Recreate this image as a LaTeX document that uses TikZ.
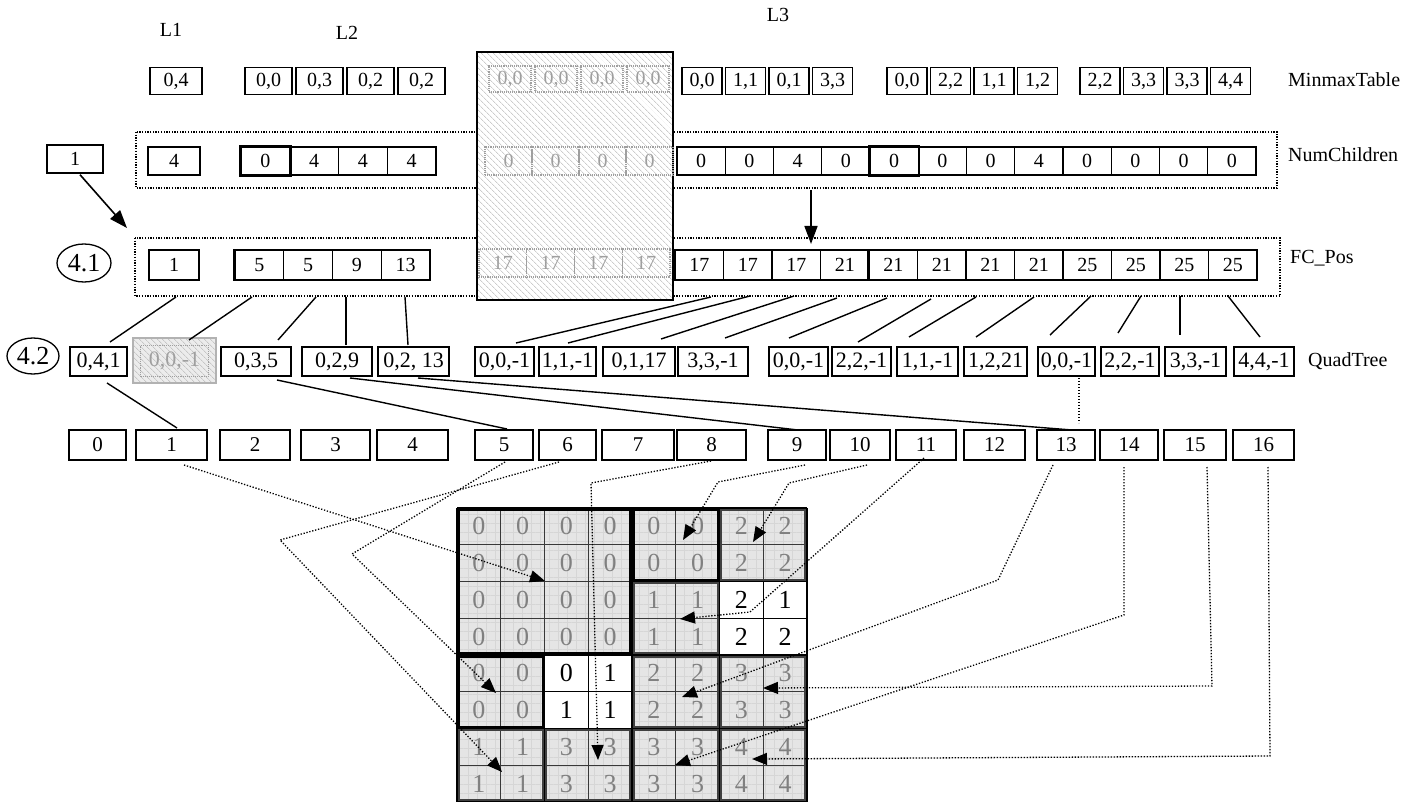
\documentclass[tikz,border=0pt]{standalone}
\usepackage{fontspec}
\setmainfont{Liberation Serif}
\usetikzlibrary{arrows.meta,patterns.meta,shapes.geometric}
\newcommand\fsz[1]{\fontsize{#1}{#1}\selectfont}
\newcommand\bx[7][]{\node[cellbox,minimum width={(#4)-(#3)},minimum height={#6},#1] (#2) at ({((#3)+(#4))/2},{#5}) {#7};}
\begin{document}
\begin{tikzpicture}[x=1pt,y=-1pt,
  cellbox/.style={draw, line width=1.4pt, inner sep=0pt, fill=white, font=\fsz{20}},
  heavy/.style={line width=2.8pt},
  ghostbox/.style={draw=gray!75, densely dotted, line width=1.1pt, inner sep=0pt, text=gray!75, font=\fsz{20}},
  lbl/.style={anchor=west, inner sep=0pt, font=\fsz{20}},
  framebox/.style={line width=1.3pt, dash pattern=on 1.3pt off 1.4pt},
  link/.style={line width=1.4pt},
  plink/.style={line width=1.3pt, dash pattern=on 1.3pt off 1.7pt},
  dlink/.style={line width=1.3pt, dash pattern=on 1.3pt off 1.7pt, -{Triangle[length=15pt,width=12pt]}},
  bigarrow/.style={line width=1.6pt, -{Triangle[length=18pt,width=13pt]}},
  hatch/.style={pattern={Lines[angle=-45,distance=4pt,line width=0.5pt]}, pattern color=gray!60},
]
\useasboundingbox (0,0) rectangle (1417,802);

% ---------- level labels ----------
\node[font=\fsz{20}] (tl1) at (171,30) {L1};
\node[font=\fsz{20}] (tl2) at (347,33) {L2};
\node[font=\fsz{20}] (tl3) at (778,15) {L3};

% ---------- frames and hatched block ----------
\draw[framebox] (136,132) rectangle (1277,188);
\draw[framebox] (135,238) rectangle (1280,296);
\fill[white] (477,52) rectangle (673,300);
\fill[hatch] (477,52) rectangle (673,300);
\draw[line width=1.6pt] (477,52) rectangle (673,300);

% ---------- MinmaxTable ----------
\bx{mm-l1}{150}{202}{81}{27}{0,4}
\foreach \t [count=\i from 0] in {{0,0},{0,3},{0,2},{0,2}} {\bx{mm-l2-\i}{245+\i*51}{292+\i*51}{81}{27}{\t}}
\foreach \i in {0,...,3} {\node[ghostbox,minimum width=42,minimum height=26] (mm-g-\i) at ({510+\i*46},79) {0,0};}
\foreach \t [count=\i from 0] in {{0,0},{1,1},{0,1},{3,3}} {\bx{mm-a-\i}{682+\i*43.5}{722+\i*43.5}{81}{27}{\t}}
\foreach \t [count=\i from 0] in {{0,0},{2,2},{1,1},{1,2}} {\bx{mm-b-\i}{887+\i*43.5}{927+\i*43.5}{81}{27}{\t}}
\foreach \t [count=\i from 0] in {{2,2},{3,3},{3,3},{4,4}} {\bx{mm-c-\i}{1080+\i*43.5}{1120+\i*43.5}{81}{27}{\t}}
\node[lbl] (lab-mm) at (1288,80) {MinmaxTable};

% ---------- NumChildren ----------
\bx{nc-one}{47}{103}{159}{28}{1}
\bx{nc-l1}{148}{200}{161}{28}{4}
\foreach \t [count=\i from 0] in {0,4,4,4} {\bx{nc-l2-\i}{241+\i*48.75}{289.75+\i*48.75}{161}{28}{\t}}
\draw[heavy] (nc-l2-0.north west) rectangle (nc-l2-0.south east);
\foreach \i in {0,...,3} {\node[ghostbox,minimum width=47,minimum height=28] (nc-g-\i) at ({508.5+\i*47},161) {0};}
\foreach \t [count=\i from 0] in {0,0,4,0,0,0,0,4,0,0,0,0} {\bx{nc-l3-\i}{677+\i*48.25}{725.25+\i*48.25}{161}{28}{\t}}
\draw[heavy] (nc-l3-4.north west) rectangle (nc-l3-4.south east);
\node[lbl] (lab-nc) at (1288,155) {NumChildren};

% ---------- FC_Pos ----------
\node[ellipse,draw,line width=1.3pt,minimum width=54,minimum height=38,inner sep=0pt,font=\fsz{26}] (e41) at (84,263) {4.1};
\bx{fc-l1}{149}{199}{265}{30}{1}
\foreach \t [count=\i from 0] in {5,5,9,13} {\bx{fc-l2-\i}{235+\i*48.75}{283.75+\i*48.75}{265}{30}{\t}}
\draw[line width=2.4pt] (fc-l2-0.north west) -- (fc-l2-0.south west);
\foreach \i in {0,...,3} {\node[ghostbox,minimum width=47.75,minimum height=28] (fc-g-\i) at ({502.9+\i*47.75},263) {17};}
\foreach \t [count=\i from 0] in {17,17,17,21,21,21,21,21,25,25,25,25} {\bx{fc-l3-\i}{675+\i*48.5}{723.5+\i*48.5}{265}{30}{\t}}
\draw[line width=2.6pt] (fc-l3-0.north west) -- (fc-l3-0.south west);
\draw[line width=2.4pt] (fc-l3-4.north west) -- (fc-l3-4.south west);
\node[lbl] (lab-fc) at (1290,258) {FC\_Pos};

% arrows into FC_Pos
\coordinate (a1e) at (127,228);
\draw[bigarrow] (nc-one.south) ++(5,1) -- (a1e);
\coordinate (a2s) at (811,190);
\coordinate (a2e) at (811,244);
\draw[bigarrow] (a2s) -- (a2e);

% ---------- QuadTree ----------
\node[ellipse,draw,line width=1.3pt,minimum width=52,minimum height=36,inner sep=0pt,font=\fsz{26}] (e42) at (33,356) {4.2};
\fill[gray!15] (133,338) rectangle (216,383);
\fill[hatch] (133,338) rectangle (216,383);
\draw[gray!60, line width=2.4pt] (133,338) rectangle (216,383);
\bx[font=\fsz{22}]{qt-0}{70}{127}{361.5}{29}{0,4,1}
\node[ghostbox,font=\fsz{22},minimum width=68,minimum height=31] (qt-1) at (174.5,361) {0,0,-1};
\bx[font=\fsz{22}]{qt-2}{221}{291}{361.5}{29}{0,3,5}
\bx[font=\fsz{22}]{qt-3}{302}{372}{361.5}{29}{0,2,9}
\bx[font=\fsz{22}]{qt-4}{378}{449}{361.5}{29}{0,2, 13}
\bx[font=\fsz{22}]{qt-5}{475}{534}{361.5}{29}{0,0,-1}
\bx[font=\fsz{22}]{qt-6}{539}{596}{361.5}{29}{1,1,-1}
\bx[font=\fsz{22},heavy]{qt-7}{603}{675}{361.5}{29}{0,1,17}
\bx[font=\fsz{22}]{qt-8}{678}{748}{361.5}{29}{3,3,-1}
\bx[font=\fsz{22}]{qt-9}{769}{828}{361.5}{29}{0,0,-1}
\bx[font=\fsz{22}]{qt-10}{832}{891}{361.5}{29}{2,2,-1}
\bx[font=\fsz{22}]{qt-11}{897}{958}{361.5}{29}{1,1,-1}
\bx[font=\fsz{22},heavy]{qt-12}{964}{1027}{361.5}{29}{1,2,21}
\bx[font=\fsz{22}]{qt-13}{1038}{1095}{361.5}{29}{0,0,-1}
\bx[font=\fsz{22}]{qt-14}{1101}{1159}{361.5}{29}{2,2,-1}
\bx[font=\fsz{22}]{qt-15}{1165}{1226}{361.5}{29}{3,3,-1}
\bx[font=\fsz{22}]{qt-16}{1234}{1294}{361.5}{29}{4,4,-1}
\node[lbl] (lab-qt) at (1308,361) {QuadTree};

% FC_Pos -> QuadTree links
\foreach \pa/\pb/\pc/\pd [count=\i] in {176/297/110/342, 252/297/189/340, 316/297/278/340, 346/297/346/345, 405/297/408/345,
  711/297/516/343, 750/296/568/343, 794/296/661/339, 837/298/725/338, 887/298/789/338, 931/299/858/342, 976/297/909/337,
  1034/297/976/337, 1091/296/1050/335, 1141/296/1118/333, 1180/296/1180/335, 1228/296/1260/337}
{\coordinate (fs\i) at (\pa,\pb); \coordinate (fe\i) at (\pc,\pd); \draw[link] (fs\i) -- (fe\i);}

% ---------- index row ----------
\foreach \pa/\pb [count=\i from 0] in {69/126, 136/207, 220/290, 301/370, 377/448, 475/533, 539/596, 602/674, 677/746,
  768/826, 830/890, 896/956, 964/1025, 1037/1095, 1100/1158, 1164/1226, 1233/1294}
{\bx[font=\fsz{21}]{ix-\i}{\pa}{\pb}{445}{30}{\i}}

% QuadTree -> index links
\foreach \pa/\pb/\pc/\pd [count=\i] in {107/383/177/428, 277/380/507/429, 350/378/798/430, 418/378/1072/430}
{\coordinate (qs\i) at (\pa,\pb); \coordinate (qe\i) at (\pc,\pd); \draw[link] (qs\i) -- (qe\i);}
\coordinate (qd1) at (1079,378); \coordinate (qd2) at (1079,423);
\draw[plink] (qd1) -- (qd2);

% ---------- grid ----------
\foreach \k in {0,...,8} {\draw[line width=1.4pt] ({457+\k*43.75},508) -- ({457+\k*43.75},802);}
\foreach \k in {0,...,8} {\draw[line width=1.4pt] (457,{508+\k*36.75}) -- (807,{508+\k*36.75});}
\foreach \gca/\gra/\gcb/\grb/\gbc/\gbw in {1/1/4/4/black/2.6, 5/1/6/2/black/2.4, 7/1/8/2/gray!50!black/1.8, 5/3/6/4/gray!50!black/1.8,
  1/5/2/6/black/2.4, 5/5/6/6/gray!50!black/2, 7/5/8/6/gray!50!black/2, 1/7/2/8/gray!50!black/2, 3/7/4/8/gray!50!black/2,
  5/7/6/8/gray!50!black/2, 7/7/8/8/gray!50!black/2}
{
  \pgfmathsetmacro\gxa{457+(\gca-1)*43.75+1.8}
  \pgfmathsetmacro\gxb{457+\gcb*43.75-1.8}
  \pgfmathsetmacro\gya{508+(\gra-1)*36.75+1.8}
  \pgfmathsetmacro\gyb{508+\grb*36.75-1.8}
  \fill[gray!20] (\gxa,\gya) rectangle (\gxb,\gyb);
  \fill[pattern={Hatch[angle=0,distance=9pt,line width=0.6pt]}, pattern color=gray!32] (\gxa,\gya) rectangle (\gxb,\gyb);
  \pgfmathtruncatemacro\gcm{\gcb-1}
  \pgfmathtruncatemacro\grm{\grb-1}
  \foreach \c in {\gca,...,\gcm} {\draw[gray!45!black, line width=1.1pt] ({457+\c*43.75},\gya) -- ({457+\c*43.75},\gyb);}
  \foreach \c in {\gra,...,\grm} {\draw[gray!45!black, line width=1.1pt] (\gxa,{508+\c*36.75}) -- (\gxb,{508+\c*36.75});}
  \draw[draw=\gbc, line width=\gbw pt] (\gxa,\gya) rectangle (\gxb,\gyb);
}
\foreach \grow [count=\gr] in {{0,0,0,0,0,0,2,2},{0,0,0,0,0,0,2,2},{0,0,0,0,1,1,2,1},{0,0,0,0,1,1,2,2},
  {0,0,0,1,2,2,3,3},{0,0,1,1,2,2,3,3},{1,1,3,3,3,3,4,4},{1,1,3,3,3,3,4,4}}
{
  \foreach \v [count=\gc] in \grow {
    \pgfmathtruncatemacro\isw{((\gr==3||\gr==4)&&(\gc==7||\gc==8))||((\gr==5||\gr==6)&&(\gc==3||\gc==4))}
    \ifnum\isw=1 \def\gcol{black}\else\def\gcol{gray}\fi
    \node[font=\fsz{26},text=\gcol,inner sep=0pt] (g-\gr-\gc) at ({457+(\gc-0.5)*43.75},{508+(\gr-0.5)*36.75}) {\v};
  }
}

% ---------- dotted links index -> grid ----------
\coordinate (d1a) at (184,465); \coordinate (d1t) at (545,581);
\draw[dlink] (d1a) -- (d1t);
\coordinate (d5a) at (505,462); \coordinate (d5b) at (352,554); \coordinate (d5t) at (496,693);
\draw[dlink] (d5a) -- (d5b) -- (d5t);
\coordinate (d6a) at (559,462); \coordinate (d6b) at (280,540); \coordinate (d6t) at (502,772);
\draw[dlink] (d6a) -- (d6b) -- (d6t);
\coordinate (d8a) at (711,461); \coordinate (d8b) at (591,483); \coordinate (d8t) at (598,760);
\draw[dlink] (d8a) -- (d8b) -- (d8t);
\coordinate (d9a) at (805,465); \coordinate (d9b) at (718,482); \coordinate (d9t) at (683,540);
\draw[dlink] (d9a) -- (d9b) -- (d9t);
\coordinate (d10a) at (867,465); \coordinate (d10b) at (789,483); \coordinate (d10t) at (753,542);
\draw[dlink] (d10a) -- (d10b) -- (d10t);
\coordinate (d11a) at (924,458); \coordinate (d11b) at (750,612); \coordinate (d11t) at (680,619);
\draw[dlink] (d11a) -- (d11b) -- (d11t);
\coordinate (d13a) at (1053,465); \coordinate (d13b) at (998,580); \coordinate (d13t) at (682,697);
\draw[dlink] (d13a) -- (d13b) -- (d13t);
\coordinate (d14a) at (1124,467); \coordinate (d14b) at (1124,615); \coordinate (d14t) at (675,765);
\draw[dlink] (d14a) -- (d14b) -- (d14t);
\coordinate (d15a) at (1207,467); \coordinate (d15b) at (1212,686); \coordinate (d15t) at (763,688);
\draw[dlink] (d15a) -- (d15b) -- (d15t);
\coordinate (d16a) at (1268,467); \coordinate (d16b) at (1270,756); \coordinate (d16t) at (752,759);
\draw[dlink] (d16a) -- (d16b) -- (d16t);
\end{tikzpicture}
\end{document}
